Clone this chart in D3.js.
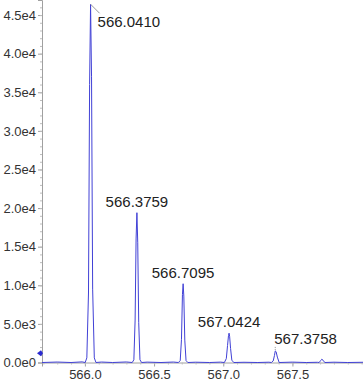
<!DOCTYPE html>
<html>
<head>
<meta charset="utf-8">
<script src="https://cdn.jsdelivr.net/npm/d3@7"></script>
<style>
  body { margin: 0; background: #fff; }
  text { font-family: "Liberation Sans", Arial, sans-serif; }
</style>
</head>
<body>
<div class="container"></div>
<script>
// profile points (m/z, intensity)
var profileMz = [565.69, 565.80, 565.90, 565.98, 566.002, 566.014, 566.026, 566.034, 566.041, 566.048, 566.056, 566.068, 566.080, 566.12, 566.20, 566.30,
  566.342, 566.354, 566.363, 566.370, 566.376, 566.382, 566.389, 566.398, 566.410, 566.45, 566.55, 566.64,
  566.676, 566.689, 566.698, 566.705, 566.710, 566.715, 566.722, 566.731, 566.744, 566.80, 566.90, 566.98,
  567.008, 567.022, 567.031, 567.038, 567.042, 567.046, 567.053, 567.062, 567.076, 567.15, 567.25, 567.33,
  567.348, 567.361, 567.370, 567.376, 567.382, 567.391, 567.404, 567.50, 567.60, 567.68,
  567.693, 567.704, 567.712, 567.721, 567.734, 567.80, 567.90, 568.01];
var profileInt = [0, 60, 0, 80, 0, 600, 9000, 36000, 46400, 37000, 9500, 600, 0, 60, 0, 70,
  0, 350, 5500, 16000, 19400, 15500, 5200, 350, 0, 50, 0, 60,
  0, 250, 3000, 8800, 10200, 8600, 2900, 250, 0, 40, 0, 50,
  0, 500, 2200, 3500, 3800, 3400, 1800, 300, 0, 30, 0, 40,
  0, 200, 900, 1500, 1400, 700, 0, 50, 0, 30,
  0, 250, 420, 300, 0, 40, 0, 30];

// labelled peaks
var peakMz = [566.0410, 566.3759, 566.7095, 567.0424, 567.3758];
var peakInt = [46400, 19400, 10200, 3800, 1500];
var peakLabels = ["566.0410", "566.3759", "566.7095", "567.0424", "567.3758"];

// axis ticks
var xTicks = [566.0, 566.5, 567.0, 567.5];
var xTickLabels = ["566.0", "566.5", "567.0", "567.5"];
var yTicks = [0, 5000, 10000, 15000, 20000, 25000, 30000, 35000, 40000, 45000];
var yTickLabels = ["0.0e0", "5.0e3", "1.0e4", "1.5e4", "2.0e4", "2.5e4", "3.0e4", "3.5e4", "4.0e4", "4.5e4"];

// precursor marker
var precursorInt = 1200;

var W = 363, H = 382;
var plotLeft = 42, plotRight = 363, plotTop = 0, plotBottom = 362.5;

var svg = d3.select(".container").append("svg")
  .attr("width", W).attr("height", H);

var x = d3.scaleLinear().domain([565.69, 568.01]).range([plotLeft, plotRight]);
var y = d3.scaleLinear().domain([0, 46950]).range([plotBottom, plotTop]);

// y axis
var yAxis = d3.axisLeft(y).tickValues(yTicks)
  .tickFormat(function(d, i) { return yTickLabels[i]; })
  .tickSize(4).tickPadding(2);
var gy = svg.append("g").attr("transform", "translate(" + plotLeft + ",0)").call(yAxis);
gy.select(".domain").attr("stroke", "#a0a0a0");
gy.selectAll(".tick line").attr("stroke", "#a0a0a0");
gy.selectAll(".tick text").attr("fill", "#333").attr("font-size", "13px");

// minor y ticks
var gym = svg.append("g").attr("transform", "translate(" + plotLeft + ",0)")
  .call(d3.axisLeft(y).ticks(46).tickSize(2).tickFormat(""));
gym.select(".domain").remove();
gym.selectAll(".tick line").attr("stroke", "#bdbdbd");

// x axis
var xAxis = d3.axisBottom(x).tickValues(xTicks)
  .tickFormat(function(d, i) { return xTickLabels[i]; })
  .tickSize(4).tickPadding(3);
var gx = svg.append("g").attr("transform", "translate(0," + plotBottom + ")").call(xAxis);
gx.select(".domain").attr("stroke", "#a0a0a0");
gx.selectAll(".tick line").attr("stroke", "#a0a0a0");
gx.selectAll(".tick text").attr("fill", "#333").attr("font-size", "13px");

var gxm = svg.append("g").attr("transform", "translate(0," + plotBottom + ")")
  .call(d3.axisBottom(x).ticks(24).tickSize(2).tickFormat(""));
gxm.select(".domain").remove();
gxm.selectAll(".tick line").attr("stroke", "#bdbdbd");

// spectrum profile
var pts = profileMz.map(function(m, i) { return [m, profileInt[i]]; });
var line = d3.line().x(function(d) { return x(d[0]); }).y(function(d) { return y(d[1]); });
svg.append("path").datum(pts)
  .attr("d", line)
  .attr("fill", "none")
  .attr("stroke", "#4141d6")
  .attr("stroke-width", 1)
  .attr("stroke-linejoin", "round");

// peak labels
var labels = svg.append("g").attr("font-size", "15px").attr("fill", "#222");
peakMz.forEach(function(m, i) {
  var px = x(m), py = y(peakInt[i]);
  if (i == 0) {
    svg.append("line").attr("x1", px).attr("y1", py).attr("x2", px + 9).attr("y2", py + 9)
      .attr("stroke", "#999").attr("stroke-width", 1);
    labels.append("text").attr("x", px + 7).attr("y", py + 23).text(peakLabels[i]);
  } else if (i == 4) {
    svg.append("line").attr("x1", px).attr("y1", py - 1).attr("x2", px).attr("y2", py - 5)
      .attr("stroke", "#999").attr("stroke-width", 1).attr("stroke-dasharray", "1,1");
    labels.append("text").attr("x", px - 1).attr("y", py - 7).text(peakLabels[i]);
  } else {
    labels.append("text").attr("x", px).attr("y", py - 6)
      .attr("text-anchor", "middle").text(peakLabels[i]);
  }
});

// precursor marker on the y axis
var my = y(precursorInt);
svg.append("path")
  .attr("d", "M" + (plotLeft - 5) + "," + my + "L" + (plotLeft - 1) + "," + (my - 3) + "L" + (plotLeft + 1) + "," + my + "L" + (plotLeft - 1) + "," + (my + 3) + "Z")
  .attr("fill", "#2a2ad0");
</script>
</body>
</html>
